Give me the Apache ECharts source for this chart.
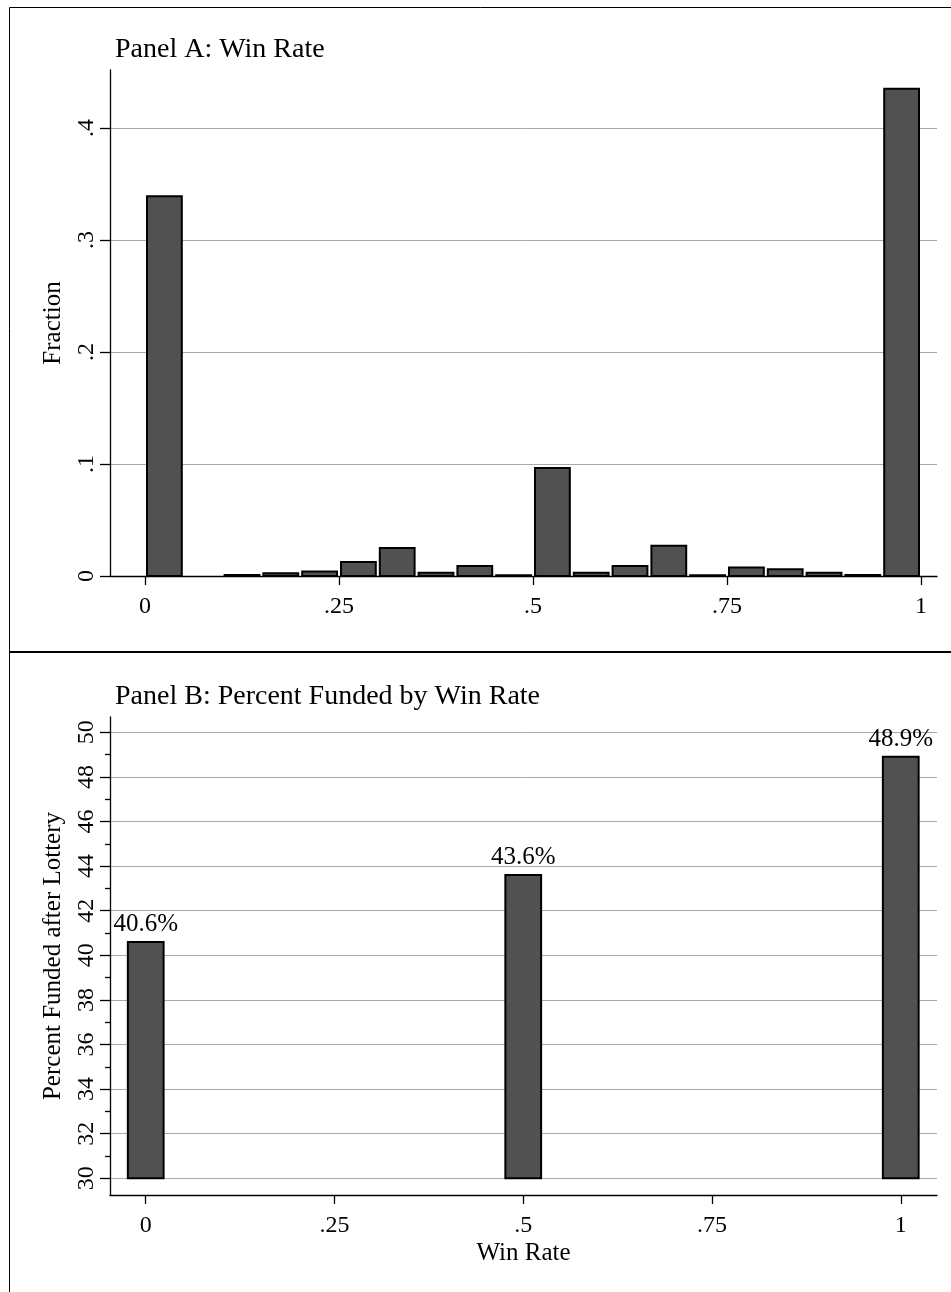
<!DOCTYPE html>
<html>
<head>
<meta charset="utf-8">
<script src="https://cdn.jsdelivr.net/npm/echarts@6/dist/echarts.min.js"></script>
<style>
html,body{margin:0;padding:0;background:#fff;}
#c{width:951px;height:1292px;}
</style>
</head>
<body>
<div id="c"></div>
<script>
// ---------- Panel A: histogram of win rate ----------
const binStart = [0.00,0.05,0.10,0.15,0.20,0.25,0.30,0.35,0.40,0.45,0.50,0.55,0.60,0.65,0.70,0.75,0.80,0.85,0.90,0.95];
const binEnd   = [0.05,0.10,0.15,0.20,0.25,0.30,0.35,0.40,0.45,0.50,0.55,0.60,0.65,0.70,0.75,0.80,0.85,0.90,0.95,1.00];
const fraction = [0.339,0.000,0.0008,0.0025,0.0040,0.0125,0.0250,0.0030,0.0090,0.0006,0.0964,0.0030,0.0090,0.0270,0.0006,0.0075,0.0060,0.0030,0.0010,0.4350];
const xTickValues = [0, 0.25, 0.5, 0.75, 1];
const yTickValuesA = [0, 0.1, 0.2, 0.3, 0.4];

// ---------- Panel B: percent funded by win rate ----------
const winRateB = [0, 0.5, 1];
const pctFunded = [40.6, 43.6, 48.9];
const yTickValuesB = [30,32,34,36,38,40,42,44,46,48,50];
const yMinorTickValuesB = [31,33,35,37,39,41,43,45,47,49];
const barBaseB = 30;

const FONT = '"Liberation Serif","Times New Roman",Times,serif';
const stataFmt = v => {
  if (v === 0) return '0';
  if (v === 1) return '1';
  return String(+v.toFixed(4)).replace(/^0\./, '.');
};

const axisLineStyle = {color:'#000', width:1.3};
const labelStyle = {color:'#000', fontFamily:FONT, fontSize:24};

const chart = echarts.init(document.getElementById('c'), null, {renderer:'canvas'});

const option = {
  animation:false,
  backgroundColor:'#fff',
  grid:[
    {left:110, right:14, top:70, bottom:716},
    {left:110, right:14, top:717, bottom:97}
  ],
  xAxis:[
    {
      gridIndex:0, type:'value', min:-0.0451, max:1.0206,
      axisLine:{show:true, onZero:false, lineStyle:axisLineStyle},
      axisTick:{show:true, customValues:xTickValues, length:9, lineStyle:axisLineStyle},
      axisLabel:{show:true, customValues:xTickValues, formatter:stataFmt, margin:19, ...labelStyle},
      splitLine:{show:false}
    },
    {
      gridIndex:1, type:'value', min:-0.0473, max:1.048,
      name:'Win Rate', nameLocation:'middle', nameGap:46,
      nameTextStyle:{color:'#000', fontFamily:FONT, fontSize:25},
      axisLine:{show:true, onZero:false, lineStyle:axisLineStyle},
      axisTick:{show:true, customValues:xTickValues, length:9, lineStyle:axisLineStyle},
      axisLabel:{show:true, customValues:xTickValues, formatter:stataFmt, margin:19, ...labelStyle},
      splitLine:{show:false}
    }
  ],
  yAxis:[
    {
      gridIndex:0, type:'value', position:'left', min:0, max:0.4518,
      name:'Fraction', nameLocation:'middle', nameGap:44,
      nameTextStyle:{color:'#000', fontFamily:FONT, fontSize:25},
      axisLine:{show:true, onZero:false, lineStyle:axisLineStyle},
      axisTick:{show:true, customValues:yTickValuesA, length:10, lineStyle:axisLineStyle},
      axisLabel:{show:true, customValues:yTickValuesA, formatter:stataFmt, rotate:90, margin:11, ...labelStyle},
      splitLine:{show:true, lineStyle:{color:'#a8a8a8', width:1}}
    },
    {
      gridIndex:1, type:'value', position:'left', min:29.25, max:50.686,
      name:'Percent Funded after Lottery', nameLocation:'middle', nameGap:44,
      nameTextStyle:{color:'#000', fontFamily:FONT, fontSize:25},
      axisLine:{show:true, onZero:false, lineStyle:axisLineStyle},
      axisTick:{show:true, customValues:yTickValuesB, length:10, lineStyle:axisLineStyle},
      axisLabel:{show:true, customValues:yTickValuesB, rotate:90, margin:11, ...labelStyle},
      splitLine:{show:true, lineStyle:{color:'#a8a8a8', width:1}}
    },
    {
      gridIndex:1, type:'value', position:'left', offset:0, min:29.25, max:50.686,
      axisLine:{show:false, onZero:false},
      axisTick:{show:true, customValues:yMinorTickValuesB, length:5, lineStyle:axisLineStyle},
      axisLabel:{show:false, customValues:yMinorTickValuesB},
      splitLine:{show:false}
    }
  ],
  series:[
    {
      type:'custom', xAxisIndex:0, yAxisIndex:0,
      data: binStart.map((s,i) => [s, binEnd[i], fraction[i]]),
      encode:{x:[0,1], y:2},
      renderItem:(params, api) => {
        const v = api.value(2);
        if (!(v > 0)) return null;
        const lo = api.coord([api.value(0), 0]);
        const hi = api.coord([api.value(1), v]);
        return {
          type:'rect',
          shape:{x:lo[0]+2, y:hi[1], width:hi[0]-lo[0]-4, height:lo[1]-hi[1]},
          style:{fill:'#515151', stroke:'#000', lineWidth:2}
        };
      }
    },
    {
      type:'custom', xAxisIndex:1, yAxisIndex:1,
      data: winRateB.map((w,i) => [w, pctFunded[i]]),
      encode:{x:0, y:1},
      renderItem:(params, api) => {
        const x = api.value(0), v = api.value(1);
        const lo = api.coord([x-0.025, barBaseB]);
        const hi = api.coord([x+0.025, v]);
        return {
          type:'group',
          children:[
            {type:'rect',
             shape:{x:lo[0]+1, y:hi[1], width:hi[0]-lo[0]-2, height:lo[1]-hi[1]},
             style:{fill:'#515151', stroke:'#000', lineWidth:2}},
            {type:'text', x:(lo[0]+hi[0])/2, y:hi[1]-5,
             style:{text:v.toFixed(1)+'%', align:'center', verticalAlign:'bottom',
                    fill:'#000', fontFamily:FONT, fontSize:25}}
          ]
        };
      }
    }
  ],
  graphic:[
    {type:'line', shape:{x1:9.5, y1:7.5, x2:951, y2:7.5}, style:{stroke:'#000', lineWidth:1}},
    {type:'line', shape:{x1:9.5, y1:7.5, x2:9.5, y2:1292}, style:{stroke:'#000', lineWidth:1}},
    {type:'line', shape:{x1:9.5, y1:652, x2:951, y2:652}, style:{stroke:'#000', lineWidth:2}},
    {type:'text', x:115, y:49.5, style:{text:'Panel A: Win Rate', fill:'#000', fontFamily:FONT, fontSize:28, verticalAlign:'middle'}},
    {type:'text', x:115, y:697, style:{text:'Panel B: Percent Funded by Win Rate', fill:'#000', fontFamily:FONT, fontSize:28, verticalAlign:'middle'}}
  ]
};
chart.setOption(option);
</script>
</body>
</html>
